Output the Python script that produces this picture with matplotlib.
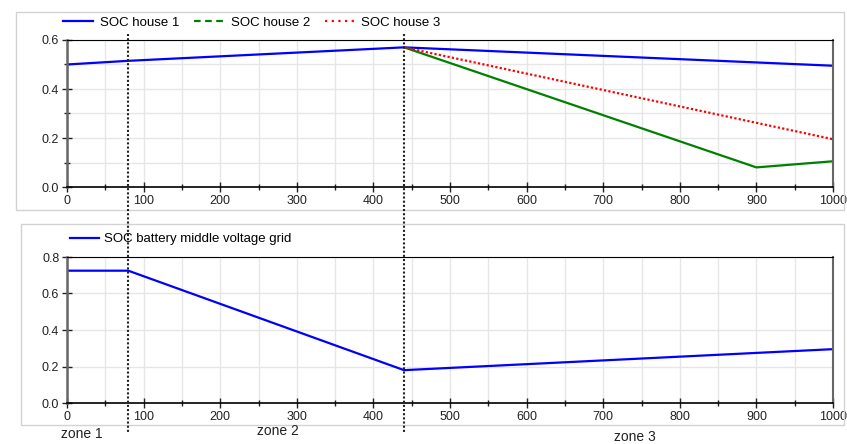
import matplotlib.pyplot as plt
import numpy as np
from matplotlib.patches import Rectangle
from matplotlib.lines import Line2D
from matplotlib.transforms import blended_transform_factory
from matplotlib.ticker import MultipleLocator

plt.rcParams['font.family'] = ['Liberation Sans', 'DejaVu Sans']

# SOC per house (time in s)
t_h1 = [0, 80, 440, 1000]
soc_h1 = [0.50, 0.515, 0.57, 0.495]
t_h2 = [440, 900, 1000]
soc_h2 = [0.57, 0.08, 0.105]
t_h3 = [440, 1000]
soc_h3 = [0.57, 0.195]

# SOC of the middle voltage grid battery
t_bat = [0, 80, 440, 1000]
soc_bat = [0.725, 0.725, 0.18, 0.295]

zone_edges = [80, 440]
zone_labels = ['zone 1', 'zone 2', 'zone 3']

W, H = 847, 444
fig = plt.figure(figsize=(W / 100, H / 100), dpi=100)

def fx(px):
    return px / W

def fy(py):
    return 1 - py / H

# light grey panel frames
for left, top, bot in [(16, 12, 210), (21, 224, 425)]:
    fig.patches.append(Rectangle((fx(left), fy(bot)), fx(844) - fx(left), fy(top) - fy(bot),
                                 transform=fig.transFigure, fill=False,
                                 edgecolor='#d2d2d2', lw=1))

ax1 = fig.add_axes([fx(67), fy(187), fx(833) - fx(67), fy(40) - fy(187)])
ax2 = fig.add_axes([fx(67), fy(403), fx(833) - fx(67), fy(257) - fy(403)])

blue, green, red = '#0000ff', '#008000', '#ff0000'
ax1.plot(t_h1, soc_h1, color=blue, lw=1.6)
ax1.plot(t_h2, soc_h2, color=green, lw=1.6)
ax1.plot(t_h3, soc_h3, color=red, lw=1.6, ls=(0, (1, 1)))
ax2.plot(t_bat, soc_bat, color=blue, lw=1.6)

for ax, ymax, ystep, gstep in [(ax1, 0.6, 0.2, 0.1), (ax2, 0.8, 0.2, 0.2)]:
    ax.set_xlim(0, 1000)
    ax.set_ylim(0, ymax)
    ax.xaxis.set_major_locator(MultipleLocator(100))
    ax.xaxis.set_minor_locator(MultipleLocator(50))
    ax.yaxis.set_major_locator(MultipleLocator(ystep))
    ax.yaxis.set_minor_locator(MultipleLocator(gstep))
    ax.grid(True, which='both', color='#e6e6e6', lw=1)
    ax.set_axisbelow(True)
    ax.tick_params(which='both', direction='inout', labelsize=9, colors='#222222',
                   length=5, width=1, pad=2)
    ax.tick_params(which='major', length=7)
    ax.spines['left'].set_color('#666666')
    ax.spines['left'].set_linewidth(1.8)
    ax.spines['right'].set_color('#666666')
    ax.spines['right'].set_linewidth(1.5)
    ax.spines['top'].set_color('black')
    ax.spines['bottom'].set_color('black')
    ax.spines['bottom'].set_linewidth(1.2)
    ax.set_yticks(np.arange(0, ymax + 0.01, ystep))
    ax.set_yticklabels([f'{v:.1f}' for v in ax.get_yticks()])

handles = [Line2D([], [], color=blue, lw=1.6),
           Line2D([], [], color=green, lw=1.6, ls=(0, (3, 2))),
           Line2D([], [], color=red, lw=1.6, ls=(0, (1, 2)))]
ax1.legend(handles, ['SOC house 1', 'SOC house 2', 'SOC house 3'],
           loc='center left', bbox_to_anchor=(fx(63), fy(23)), bbox_transform=fig.transFigure,
           ncol=3, frameon=False, fontsize=9.5, handlelength=2.3, handletextpad=0.5,
           columnspacing=1.1, borderaxespad=0, borderpad=0)
ax2.legend([Line2D([], [], color=blue, lw=1.6)], ['SOC battery middle voltage grid'],
           loc='center left', bbox_to_anchor=(fx(70), fy(239)), bbox_transform=fig.transFigure,
           frameon=False, fontsize=9.5, handlelength=2.2, handletextpad=0.4,
           borderaxespad=0, borderpad=0)

# zone boundaries run across both panels, drawn on top of everything
tr = blended_transform_factory(ax1.transData, fig.transFigure)
for xe in zone_edges:
    fig.add_artist(Line2D([xe, xe], [fy(34), fy(433)], transform=tr,
                          color='#222222', lw=1.5, ls=(0, (1, 1)), zorder=10))

for lab, xc, yc in zip(zone_labels, [82, 278, 635], [434, 431, 437]):
    fig.text(fx(xc), fy(yc), lab, ha='center', va='center', fontsize=10, color='#222222')

fig.savefig('out.png', dpi=100)
